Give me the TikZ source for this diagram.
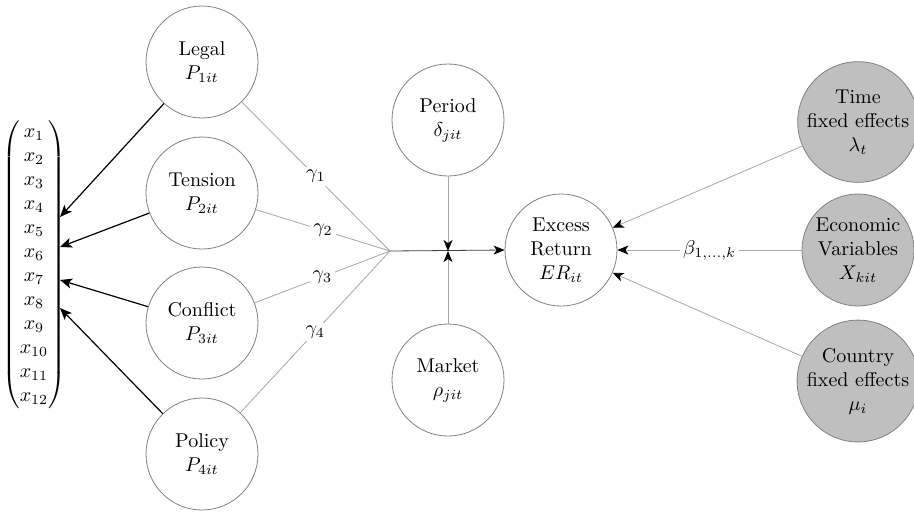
\documentclass[tikz,border=0pt]{standalone}
\usepackage{amsmath}
\usetikzlibrary{arrows.meta}
\begin{document}
\begin{tikzpicture}[x=0.5pt,y=-0.5pt,
  var/.style={circle,draw=gray,thin,minimum size=56pt,inner sep=0pt,align=center,font=\normalsize},
  fixvar/.style={var,fill=gray!50},
  thinarrow/.style={draw=gray!70,thin,-{Stealth[black,length=5.5pt,width=4.5pt,inset=1.5pt]}},
  mainarrow/.style={draw=black!75,thin,-{Stealth[black,length=5.5pt,width=4.5pt,inset=1.5pt]}},
  blackarrow/.style={draw=black,line width=0.6pt,-{Stealth[black,length=6pt,width=5pt,inset=1.5pt]}},
  gline/.style={draw=gray!70,thin},
  lbl/.style={fill=white,inner sep=1.5pt,font=\normalsize}
]
\useasboundingbox (0,0) rectangle (914,511);
% vector
\node[inner sep=0pt] (vec) at (34,265) {$\begin{pmatrix} x_1\\ x_2\\ x_3\\ x_4\\ x_5\\ x_6\\ x_7\\ x_8\\ x_9\\ x_{10}\\ x_{11}\\ x_{12}\end{pmatrix}$};
\coordinate (v1) at (60,217);
\coordinate (v2) at (60,247);
\coordinate (v3) at (60,280);
\coordinate (v4) at (60,308);
% left column
\node[var] (legal) at (202,62) {Legal\\$P_{1it}$};
\node[var] (tension) at (202,193) {Tension\\$P_{2it}$};
\node[var] (conflict) at (202,323) {Conflict\\$P_{3it}$};
\node[var] (policy) at (202,454) {Policy\\$P_{4it}$};
% middle
\coordinate (junc) at (390,251);
\coordinate (meet) at (448,251);
\node[var] (period) at (448,120) {Period\\$\delta_{jit}$};
\node[var] (market) at (448,380) {Market\\$\rho_{jit}$};
\node[var] (excess) at (561,250) {Excess\\Return\\$ER_{it}$};
% right
\node[fixvar] (time) at (858,122) {Time\\fixed effects\\$\lambda_t$};
\node[fixvar] (econ) at (858,250) {Economic\\Variables\\$X_{kit}$};
\node[fixvar] (country) at (858,381) {Country\\fixed effects\\$\mu_i$};
% arrows to vector
\draw[blackarrow] (legal) -- (v1);
\draw[blackarrow] (tension) -- (v2);
\draw[blackarrow] (conflict) -- (v3);
\draw[blackarrow] (policy) -- (v4);
% gamma lines
\draw[gline] (legal) -- node[lbl] {$\gamma_1$} (junc);
\draw[gline] (tension) -- node[lbl] {$\gamma_2$} (junc);
\draw[gline] (conflict) -- node[lbl] {$\gamma_3$} (junc);
\draw[gline] (policy) -- node[lbl] {$\gamma_4$} (junc);
\draw[mainarrow] (junc) -- (excess.west);
\draw[thinarrow] (period) -- (meet);
\draw[thinarrow] (market) -- (meet);
% right arrows
\draw[thinarrow] (time) -- (excess);
\draw[thinarrow] (econ) -- node[lbl] {$\beta_{1,\ldots,k}$} (excess);
\draw[thinarrow] (country) -- (excess);
\end{tikzpicture}
\end{document}
